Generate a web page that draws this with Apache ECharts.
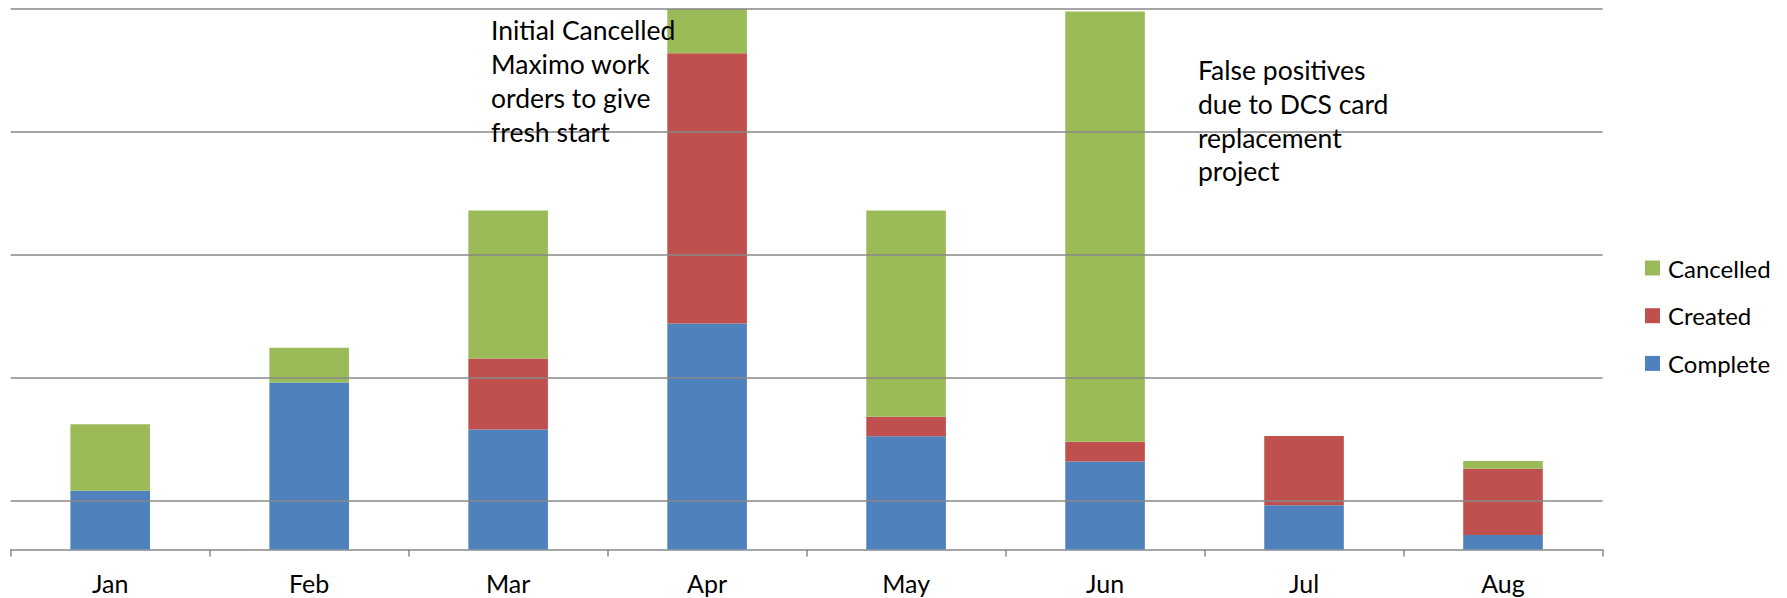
<!DOCTYPE html>
<html>
<head>
<meta charset="utf-8">
<script src="https://cdn.jsdelivr.net/npm/echarts@6/dist/echarts.min.js"></script>
<style>
html,body{margin:0;padding:0;background:#fff;}
#chart{width:1787px;height:598px;}
</style>
</head>
<body>
<div id="chart"></div>
<script>
// 月份
var months = ['Jan','Feb','Mar','Apr','May','Jun','Jul','Aug'];
// 各状态的堆叠值
var complete  = [23.9, 68.0, 48.9, 92.0, 46.1, 35.8, 18.0, 5.9];
var created   = [0, 0, 28.8, 109.9, 7.9, 8.1, 28.2, 27.0];
var cancelled = [27.1, 14.1, 60.2, 18.1, 83.9, 175.0, 0, 3.1];
// 网格线所在的值
var gridValues = [20, 70, 120, 170, 220];

var font = 'Lato, "Open Sans", sans-serif';
var gridColor = '#888888';

var myChart = echarts.init(document.getElementById('chart'), null, {renderer: 'svg'});

var option = {};
option.backgroundColor = '#ffffff';
option.animation = false;
option.grid = {left: 10.7, right: 184.5, top: 8.8, bottom: 48.4, containLabel: false};

//X轴
option.xAxis = {
	type: 'category',
	data: months,
	axisLine: {lineStyle: {color: gridColor, width: 1.5}},
	axisTick: {show: true, length: 7, lineStyle: {color: gridColor, width: 1.5}},
	axisLabel: {color: '#000', fontFamily: font, fontSize: 25, margin: 21}
};
//Y轴，不显示刻度
option.yAxis = {
	type: 'value',
	min: 0,
	max: 220,
	axisLine: {show: false},
	axisTick: {show: false},
	axisLabel: {show: false},
	splitLine: {show: false}
};

option.legend = {
	orient: 'vertical',
	left: 1645,
	top: 256,
	padding: 0,
	itemWidth: 15,
	itemHeight: 15,
	itemGap: 23.7,
	icon: 'rect',
	data: ['Cancelled', 'Created', 'Complete'],
	textStyle: {color: '#000', fontFamily: font, fontSize: 24, lineHeight: 24, padding: [0, 0, 0, 3]}
};

function barSeries(name, color, data)
{
	return {
		name: name,
		type: 'bar',
		stack: 'total',
		barWidth: '40%',
		z: 2,
		itemStyle: {color: color},
		data: data
	};
}

option.series = [
	//网格线放在柱子下面
	{
		name: 'gridlines',
		type: 'line',
		data: [],
		z: 1,
		silent: true,
		markLine: {
			silent: true,
			symbol: ['none', 'none'],
			label: {show: false},
			lineStyle: {color: gridColor, width: 1.5, type: 'solid'},
			data: gridValues.map(function(v){ return {yAxis: v}; })
		}
	},
	barSeries('Complete', '#4F81BD', complete),
	barSeries('Created', '#C0504D', created),
	barSeries('Cancelled', '#9BBB59', cancelled)
];

//注释文字，压在柱子上面
option.graphic = [
	{
		type: 'text',
		left: 491,
		top: 12.5,
		z: 10,
		style: {
			text: 'Initial Cancelled\nMaximo work\norders to give\nfresh start',
			font: '26.5px ' + font,
			fill: '#000',
			lineHeight: 34
		}
	},
	{
		type: 'text',
		left: 1198,
		top: 53,
		z: 10,
		style: {
			text: 'False positives\ndue to DCS card\nreplacement\nproject',
			font: '26.5px ' + font,
			fill: '#000',
			lineHeight: 33.8
		}
	}
];

myChart.setOption(option);
</script>
</body>
</html>
